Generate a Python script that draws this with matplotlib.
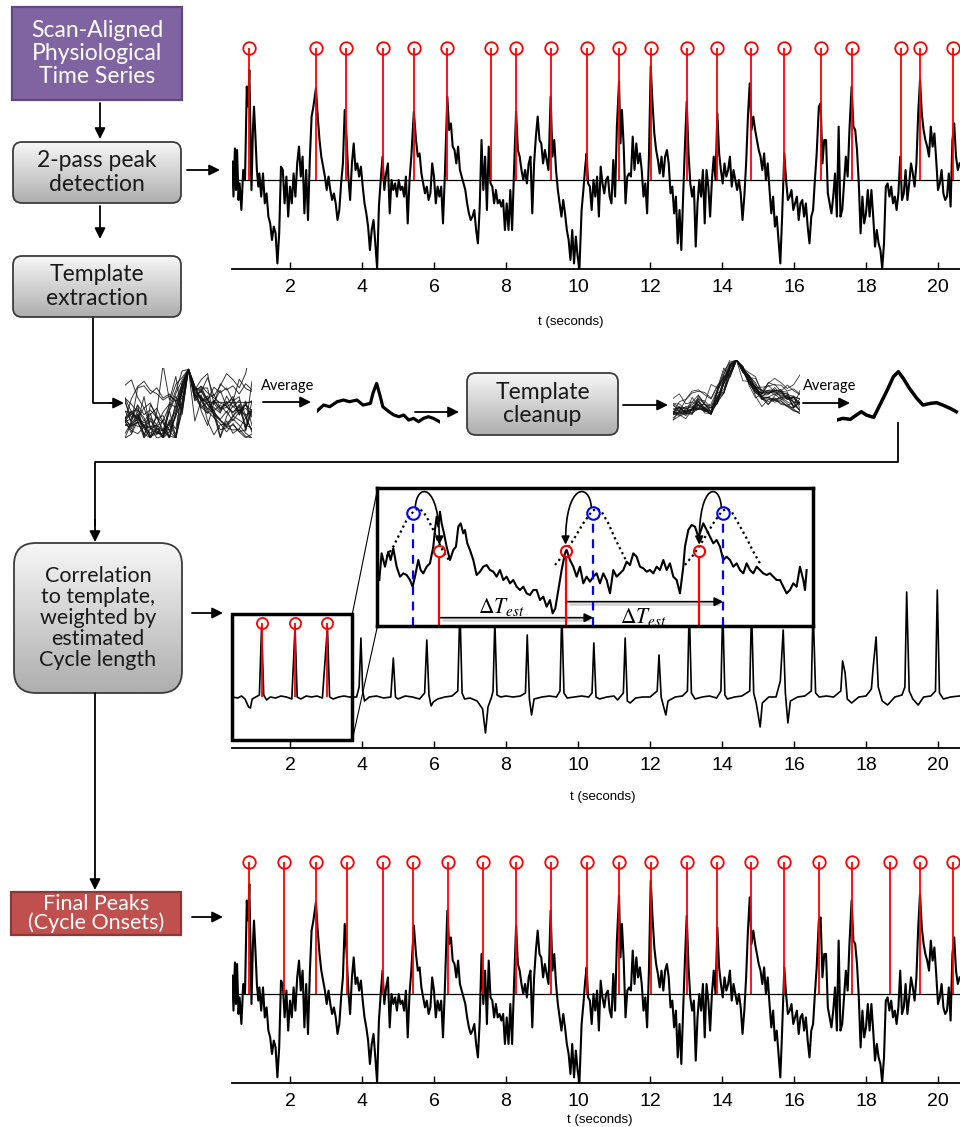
import numpy as np
import matplotlib
matplotlib.use('Agg')
import matplotlib.pyplot as plt
from matplotlib.patches import FancyBboxPatch, Rectangle, FancyArrowPatch
from matplotlib.path import Path
from matplotlib.colors import LinearSegmentedColormap

plt.rcParams['font.family'] = ['Liberation Sans', 'DejaVu Sans']
plt.rcParams['mathtext.fontset'] = 'stix'

# ---------------- data ----------------
# physiological trace (t in s, arbitrary amplitude, 0 = mean line)
trace_pts = [
    (0.40, 0.92), (0.43, -0.83), (0.47, 1.58), (0.50, -0.50), (0.53, 1.50), (0.57, -1.00), (0.60, -0.17), (0.65, -1.50),
    (0.70, 0.50), (0.75, 0.00), (0.80, 4.67), (0.84, 3.67), (0.87, 5.50), (0.90, 2.50), (0.93, -0.50), (0.97, 2.50),
    (1.00, 3.67), (1.04, 2.17), (1.08, 0.50), (1.12, -0.33), (1.15, 0.33), (1.20, -0.83), (1.25, 0.33), (1.30, -1.17),
    (1.35, -0.67), (1.40, -1.83), (1.45, -2.17), (1.50, -3.00), (1.55, -2.33), (1.60, -2.67), (1.65, -4.17), (1.70, -2.67),
    (1.75, 0.67), (1.80, 0.50), (1.85, -1.17), (1.90, 0.17), (1.95, -1.83), (2.00, -0.33), (2.05, -1.17), (2.10, 0.33),
    (2.15, -0.83), (2.20, 0.83), (2.25, 1.67), (2.30, 0.17), (2.35, 1.17), (2.40, -1.67), (2.45, 0.50), (2.50, -2.00),
    (2.55, 1.00), (2.60, 3.17), (2.65, 3.67), (2.72, 4.58), (2.77, 3.17), (2.82, 2.00), (2.87, 1.17), (2.92, 0.67),
    (2.97, 0.17), (3.02, -0.50), (3.07, 0.17), (3.12, -0.50), (3.17, -1.00), (3.22, -0.67), (3.27, -1.17), (3.32, -2.00),
    (3.37, -1.50), (3.42, -0.17), (3.47, 0.83), (3.52, 3.50), (3.57, 2.17), (3.62, 0.17), (3.67, -1.00), (3.72, 0.83),
    (3.77, 1.83), (3.82, 0.50), (3.87, 0.83), (3.92, 0.17), (3.97, 0.67), (4.02, -0.33), (4.07, -1.17), (4.12, -1.67),
    (4.17, -2.33), (4.22, -3.50), (4.27, -2.50), (4.32, -2.00), (4.37, -3.17), (4.42, -4.42), (4.47, -1.33), (4.52, 0.00),
    (4.57, 1.17), (4.62, -0.50), (4.67, 0.33), (4.72, 0.83), (4.77, -1.67), (4.82, 0.00), (4.87, -0.50), (4.92, -0.17),
    (4.97, -0.83), (5.02, 0.00), (5.07, -0.50), (5.12, -0.33), (5.17, -0.83), (5.22, 0.17), (5.27, -2.17), (5.32, 0.00),
    (5.37, 1.17), (5.44, 3.42), (5.50, 2.00), (5.55, 1.17), (5.60, 1.33), (5.65, 0.33), (5.70, -0.17), (5.75, -0.67),
    (5.80, -0.33), (5.85, -1.00), (5.90, -0.67), (5.95, 0.83), (6.00, 0.17), (6.05, -1.17), (6.10, -0.33), (6.15, -0.83),
    (6.20, -0.33), (6.25, -2.17), (6.30, 0.17), (6.37, 4.17), (6.42, 2.50), (6.47, 2.83), (6.52, 1.67), (6.57, 1.50),
    (6.62, 0.83), (6.67, 1.67), (6.72, 0.50), (6.77, 0.17), (6.82, -0.17), (6.87, -0.50), (6.92, -1.17), (6.97, -1.67),
    (7.02, -2.00), (7.07, -1.83), (7.12, -1.50), (7.17, -2.50), (7.22, -3.17), (7.27, -1.33), (7.32, 2.00), (7.37, -0.50),
    (7.42, 1.17), (7.47, -1.50), (7.52, 1.67), (7.57, -0.17), (7.62, -0.33), (7.67, -1.17), (7.72, -0.50), (7.77, -1.17),
    (7.82, -1.00), (7.87, -1.33), (7.92, -1.00), (7.97, -2.50), (8.02, -1.17), (8.07, -2.50), (8.12, -0.50), (8.17, -2.50),
    (8.22, 0.33), (8.28, 3.42), (8.33, 1.50), (8.38, 1.17), (8.43, 0.50), (8.48, 0.00), (8.53, 0.50), (8.58, -0.17),
    (8.63, 0.83), (8.68, 1.17), (8.73, -1.67), (8.78, 0.83), (8.83, 2.17), (8.88, 3.17), (8.93, 2.00), (8.98, 1.83),
    (9.03, 0.83), (9.08, 1.50), (9.13, 1.00), (9.18, 0.50), (9.24, 4.17), (9.29, 1.17), (9.34, 2.00), (9.39, 0.50),
    (9.44, -0.50), (9.49, -1.17), (9.54, -1.83), (9.59, -1.00), (9.64, -1.67), (9.69, -2.50), (9.74, -3.00), (9.79, -4.00),
    (9.84, -2.50), (9.89, -4.17), (9.94, -2.83), (9.99, -3.83), (10.04, -4.42), (10.10, -1.50), (10.15, -0.50), (10.20, 0.67),
    (10.24, 1.33), (10.28, -0.17), (10.33, -0.33), (10.38, -1.50), (10.43, 0.00), (10.48, -0.83), (10.53, 0.17), (10.58, -1.83),
    (10.63, 0.67), (10.68, -0.17), (10.73, -0.67), (10.78, 0.00), (10.83, 0.17), (10.88, -0.83), (10.93, -1.17), (10.98, 1.00),
    (11.03, -0.83), (11.08, 2.67), (11.14, 4.92), (11.18, 1.83), (11.22, 3.50), (11.27, 1.67), (11.32, -1.17), (11.37, 0.17),
    (11.42, 0.33), (11.47, 0.17), (11.52, 2.17), (11.57, 0.50), (11.62, 1.83), (11.67, 0.83), (11.72, 1.33), (11.77, 0.50),
    (11.82, -0.83), (11.87, -0.17), (11.92, -1.67), (11.97, 1.17), (12.02, 5.67), (12.07, 3.83), (12.12, 2.33), (12.17, 1.50),
    (12.22, 1.00), (12.27, 0.33), (12.32, 1.17), (12.37, 0.17), (12.42, 1.17), (12.47, 1.50), (12.52, 0.83), (12.57, -0.67),
    (12.62, -0.33), (12.67, -1.67), (12.72, -0.83), (12.77, -3.17), (12.82, -1.50), (12.87, -3.50), (12.92, -0.83), (12.97, 1.67),
    (13.02, 3.92), (13.07, 1.33), (13.12, -0.17), (13.17, -0.83), (13.22, -0.33), (13.27, -3.33), (13.32, -1.17), (13.37, 0.00),
    (13.42, -0.83), (13.47, 0.50), (13.52, -2.17), (13.57, 0.50), (13.62, -0.33), (13.67, -1.83), (13.72, 0.00), (13.77, 1.17),
    (13.82, 0.00), (13.87, 3.33), (13.92, 1.33), (13.97, 0.50), (14.02, -0.17), (14.07, 0.83), (14.12, 0.17), (14.17, 0.50),
    (14.22, 1.17), (14.27, -0.33), (14.32, 0.50), (14.37, 0.00), (14.42, -0.50), (14.47, 0.00), (14.52, -0.67), (14.57, -2.00),
    (14.62, -0.83), (14.67, 0.83), (14.72, 3.17), (14.77, 4.83), (14.82, 2.50), (14.87, 3.17), (14.92, 2.50), (14.97, 2.00),
    (15.02, 1.50), (15.07, 1.17), (15.12, 0.50), (15.17, 1.33), (15.22, 0.00), (15.27, 0.83), (15.32, -0.50), (15.37, -1.67),
    (15.42, -0.83), (15.47, -2.33), (15.52, -1.83), (15.57, -3.00), (15.62, -4.17), (15.67, -1.83), (15.73, 1.33), (15.78, 0.00),
    (15.83, -1.00), (15.88, -0.83), (15.93, -0.50), (15.98, -1.50), (16.03, -1.17), (16.08, -0.83), (16.13, -2.00), (16.18, -1.17),
    (16.23, -1.00), (16.28, -1.83), (16.33, -1.17), (16.38, -2.33), (16.43, -3.17), (16.48, -1.83), (16.53, -1.50), (16.58, 0.00),
    (16.63, 1.33), (16.69, 3.67), (16.74, 3.83), (16.79, 0.83), (16.84, 2.00), (16.89, 2.00), (16.94, -0.67), (16.99, -1.17),
    (17.04, -1.67), (17.09, -0.83), (17.14, 0.33), (17.19, -1.83), (17.24, 2.67), (17.29, -1.83), (17.34, -1.50), (17.39, -0.17),
    (17.44, 1.17), (17.49, 0.17), (17.54, 2.50), (17.60, 4.67), (17.65, 2.67), (17.70, 2.50), (17.75, 1.50), (17.80, -0.17),
    (17.85, -2.67), (17.90, -0.83), (17.95, -2.17), (18.00, -1.67), (18.05, -0.50), (18.10, -1.83), (18.15, -0.50), (18.20, -1.83),
    (18.25, -3.33), (18.30, -2.50), (18.35, -3.17), (18.40, -3.50), (18.45, -4.42), (18.50, -3.17), (18.55, -0.33), (18.60, -0.17),
    (18.65, -0.83), (18.70, -0.33), (18.75, -1.17), (18.80, -0.83), (18.85, -1.50), (18.90, -0.67), (18.95, 1.17), (19.00, -1.00),
    (19.05, -0.67), (19.10, 0.50), (19.15, -1.00), (19.20, -0.17), (19.25, 0.83), (19.30, 0.33), (19.35, -0.33), (19.40, 0.83),
    (19.45, 3.33), (19.50, 5.00), (19.55, 3.33), (19.60, 2.50), (19.65, 2.00), (19.70, 1.67), (19.75, 1.17), (19.80, 2.67),
    (19.85, 1.67), (19.90, 2.33), (19.95, 1.00), (20.00, -0.50), (20.05, -0.17), (20.10, 0.50), (20.15, -0.67), (20.20, -1.00),
    (20.25, -0.83), (20.30, 0.33), (20.35, -1.33), (20.40, 2.00), (20.45, 2.83), (20.50, 1.17), (20.55, 0.50), (20.60, 0.83),
]

# peaks found by the 2-pass detector and the final peaks (s)
peaks_first = [0.87, 2.72, 3.56, 4.57, 5.44, 6.37, 7.57, 8.28, 9.24, 10.24, 11.15,
               12.02, 13.02, 13.85, 14.81, 15.73, 16.74, 17.62, 18.97, 19.50, 20.43]
peaks_final = [0.87, 1.84, 2.72, 3.57, 4.57, 5.43, 6.38, 7.37, 8.28, 9.24, 10.24,
               11.14, 12.02, 13.02, 13.87, 14.81, 15.73, 16.69, 17.62, 18.67, 19.50, 20.43]
marker_level = 6.6

# weighted correlation to template
corr_pts = [
    (0.40, 0.00), (0.55, -0.05), (0.65, 0.05), (0.75, -0.10), (0.85, -0.50), (0.90, -0.55), (0.95, -0.10), (1.05, 0.00),
    (1.15, 0.10), (1.21, 3.50), (1.27, 0.10), (1.35, -0.15), (1.45, 0.00), (1.60, -0.05), (1.75, 0.05), (1.90, 0.00),
    (2.05, -0.10), (2.14, 3.50), (2.20, 0.00), (2.30, -0.10), (2.45, 0.05), (2.60, 0.00), (2.75, 0.05), (2.90, -0.05),
    (3.04, 3.50), (3.10, 0.00), (3.20, -0.10), (3.35, 0.00), (3.50, 0.05), (3.65, 0.00), (3.85, 0.00), (3.92, 0.50),
    (3.97, 2.95), (4.02, 0.30), (4.07, -0.20), (4.20, 0.00), (4.40, 0.05), (4.60, -0.05), (4.80, 0.00), (4.87, 1.95),
    (4.93, 0.00), (5.00, -0.10), (5.20, 0.05), (5.40, 0.00), (5.60, -0.10), (5.74, 0.20), (5.80, 2.85), (5.86, 0.10),
    (5.92, -0.45), (5.98, -0.25), (6.10, -0.10), (6.30, 0.00), (6.50, 0.05), (6.66, 0.30), (6.72, 4.50), (6.78, 0.20),
    (6.85, -0.10), (7.00, -0.05), (7.20, -0.20), (7.35, -0.60), (7.43, -1.80), (7.50, -0.50), (7.60, 0.00), (7.64, 0.30),
    (7.69, 3.80), (7.75, 0.10), (7.85, 0.00), (8.00, 0.05), (8.20, 0.00), (8.40, 0.05), (8.54, 0.20), (8.59, 3.10),
    (8.65, -0.10), (8.71, -0.90), (8.78, -0.10), (9.00, 0.00), (9.20, 0.05), (9.40, 0.00), (9.50, 0.30), (9.55, 4.30),
    (9.61, 0.20), (9.70, -0.05), (9.90, 0.00), (10.10, 0.05), (10.30, 0.00), (10.39, 0.20), (10.44, 2.70), (10.50, 0.00),
    (10.60, -0.10), (10.80, 0.00), (11.00, 0.05), (11.10, -0.15), (11.26, 0.20), (11.31, 2.95), (11.37, -0.20), (11.45, -0.30),
    (11.60, -0.05), (11.80, 0.00), (12.00, 0.00), (12.20, 0.30), (12.25, 2.10), (12.31, 0.00), (12.38, -0.50), (12.44, -0.90),
    (12.50, -0.20), (12.70, 0.00), (12.90, 0.05), (13.04, 0.30), (13.09, 4.50), (13.15, 0.20), (13.25, -0.10), (13.45, 0.00),
    (13.65, 0.05), (13.85, -0.05), (13.97, 0.30), (14.02, 4.50), (14.08, 0.10), (14.15, -0.10), (14.35, 0.00), (14.55, 0.05),
    (14.77, 0.30), (14.82, 4.50), (14.88, 0.20), (14.95, -0.30), (15.06, -1.50), (15.12, -0.30), (15.30, 0.00), (15.50, 0.00),
    (15.62, 0.80), (15.70, 3.35), (15.76, 0.20), (15.83, -1.30), (15.90, -0.20), (16.10, 0.00), (16.30, 0.05), (16.48, 0.30),
    (16.53, 4.50), (16.60, 0.20), (16.70, 0.00), (16.90, 0.05), (17.10, 0.00), (17.30, 0.30), (17.35, 1.80), (17.42, 1.20),
    (17.48, -0.10), (17.60, -0.30), (17.80, 0.00), (18.00, 0.05), (18.15, 0.40), (18.20, 1.50), (18.28, 3.00), (18.34, 0.50),
    (18.45, -0.20), (18.60, -0.40), (18.80, 0.00), (19.00, 0.10), (19.08, 0.50), (19.13, 5.25), (19.20, 0.30), (19.30, -0.10),
    (19.45, -0.40), (19.60, 0.00), (19.80, 0.05), (19.93, 0.30), (19.98, 5.35), (20.04, 0.20), (20.15, -0.10), (20.35, 0.00),
    (20.60, 0.05),
]
corr_marked = [1.21, 2.14, 3.04]
corr_marker_level = 3.7

# template averages (offset from peak in s, amplitude)
avg1_t = [-0.49, -0.43, -0.38, -0.32, -0.27, -0.22, -0.16, -0.11, -0.05, -0.03, 0.00, 0.03,
          0.05, 0.10, 0.14, 0.18, 0.22, 0.26, 0.30, 0.34, 0.38, 0.42, 0.46, 0.51]
avg1_v = [0.35, 0.55, 0.50, 0.65, 0.70, 0.65, 0.70, 0.55, 0.60, 0.90, 1.20, 0.80,
          0.50, 0.35, 0.25, 0.20, 0.25, 0.10, 0.15, 0.05, 0.15, 0.20, 0.15, 0.05]
avg2_t = [-0.50, -0.45, -0.39, -0.34, -0.30, -0.26, -0.20, -0.15, -0.09, -0.04, 0.00,
          0.04, 0.09, 0.15, 0.20, 0.26, 0.31, 0.36, 0.42, 0.47]
avg2_v = [0.10, 0.15, 0.12, 0.25, 0.35, 0.25, 0.18, 0.55, 1.00, 1.40, 1.55,
          1.35, 1.05, 0.75, 0.55, 0.60, 0.62, 0.55, 0.45, 0.35]

# zoomed illustration
inset_pts = [
    (0.06, 1.37), (0.13, 2.17), (0.23, 1.77), (0.33, 2.22), (0.40, 1.97), (0.48, 2.32), (0.58, 1.77), (0.68, 1.47),
    (0.78, 1.57), (0.88, 1.52), (0.98, 1.37), (1.06, 1.17), (1.13, 1.47), (1.23, 1.97), (1.30, 1.67), (1.38, 1.57),
    (1.48, 1.77), (1.58, 1.87), (1.68, 2.37), (1.73, 2.87), (1.78, 3.27), (1.83, 2.97), (1.88, 3.42), (1.93, 3.07),
    (2.00, 2.77), (2.08, 2.37), (2.18, 1.97), (2.28, 2.27), (2.36, 2.37), (2.43, 2.97), (2.50, 3.07), (2.58, 2.77),
    (2.63, 2.87), (2.70, 2.47), (2.78, 2.27), (2.88, 1.97), (2.98, 1.52), (3.08, 1.62), (3.18, 1.77), (3.28, 1.82),
    (3.38, 1.67), (3.48, 1.62), (3.58, 1.47), (3.68, 1.67), (3.78, 1.37), (3.88, 1.47), (3.98, 1.27), (4.08, 1.37),
    (4.18, 1.17), (4.28, 1.07), (4.38, 1.17), (4.48, 0.97), (4.58, 0.92), (4.68, 1.07), (4.78, 1.07), (4.88, 0.77),
    (4.98, 0.87), (5.08, 0.57), (5.18, 0.77), (5.26, 0.37), (5.34, 0.52), (5.43, 1.07), (5.53, 1.67), (5.63, 2.17),
    (5.68, 2.27), (5.78, 1.97), (5.88, 1.77), (5.98, 1.47), (6.08, 1.77), (6.18, 1.27), (6.28, 1.47), (6.38, 1.32),
    (6.48, 1.47), (6.58, 1.57), (6.68, 1.27), (6.78, 1.57), (6.88, 1.37), (6.98, 0.97), (7.08, 1.67), (7.18, 1.47),
    (7.28, 1.57), (7.38, 1.67), (7.48, 1.92), (7.58, 1.82), (7.68, 2.17), (7.78, 2.07), (7.88, 1.77), (7.98, 1.72),
    (8.08, 1.62), (8.18, 1.67), (8.28, 1.57), (8.38, 1.77), (8.48, 1.67), (8.58, 1.97), (8.68, 1.67), (8.78, 1.87),
    (8.88, 1.47), (8.98, 1.37), (9.08, 0.97), (9.18, 1.77), (9.23, 2.37), (9.33, 2.87), (9.43, 3.02), (9.53, 2.97),
    (9.63, 2.67), (9.68, 2.77), (9.78, 3.07), (9.88, 2.87), (9.98, 2.67), (10.08, 2.47), (10.18, 2.57), (10.28, 2.37),
    (10.38, 1.97), (10.48, 2.07), (10.58, 1.97), (10.68, 1.77), (10.78, 1.87), (10.88, 1.67), (10.98, 1.57), (11.08, 1.87),
    (11.18, 1.67), (11.28, 1.57), (11.38, 1.77), (11.48, 1.67), (11.58, 1.57), (11.68, 1.52), (11.78, 1.57), (11.88, 1.47),
    (11.98, 1.37), (12.08, 1.37), (12.18, 1.17), (12.28, 0.97), (12.38, 1.07), (12.48, 1.27), (12.58, 1.17), (12.68, 1.77),
    (12.78, 1.37), (12.83, 1.07), (12.88, 1.67),
]
inset_est = [1.08, 6.48, 10.38]     # template-based estimates (blue)
inset_found = [1.86, 5.65, 9.66]    # correlation peaks (red)
inset_est_y = 3.38
inset_found_y = 2.23
bump_t = [[0.28, 0.48, 0.68, 0.88, 1.08, 1.23, 1.38, 1.53, 1.68, 1.83, 1.98, 2.18],
          [5.33, 5.58, 5.88, 6.18, 6.43, 6.58, 6.73, 6.93, 7.13, 7.33, 7.48],
          [9.23, 9.48, 9.78, 10.08, 10.33, 10.48, 10.63, 10.83, 11.08, 11.28, 11.48]]
bump_v = [[2.07, 2.37, 2.77, 3.17, 3.42, 3.52, 3.42, 3.17, 2.87, 2.52, 2.22, 1.92],
          [1.82, 2.12, 2.57, 3.07, 3.42, 3.52, 3.42, 3.07, 2.62, 2.22, 1.92],
          [1.82, 2.12, 2.57, 3.07, 3.42, 3.52, 3.42, 3.07, 2.62, 2.22, 1.87]]

tick_vals = [2, 4, 6, 8, 10, 12, 14, 16, 18, 20]

sig_t, sig_v = np.array(trace_pts).T
corr_t, corr_v = np.array(corr_pts).T

# ---------------- layout helpers (pixel coordinates) ----------------
W, H = 960, 1127
fig = plt.figure(figsize=(W / 100, H / 100), dpi=100)


def rect(x0, y0, x1, y1):
    return [x0 / W, 1 - y1 / H, (x1 - x0) / W, (y1 - y0) / H]


def time_axes(r, ylim):
    ax = fig.add_axes(r)
    ax.set_xlim(0.389, 20.611)
    ax.set_ylim(*ylim)
    for s in ['top', 'right', 'left']:
        ax.spines[s].set_visible(False)
    ax.spines['bottom'].set_linewidth(1.3)
    ax.set_yticks([])
    ax.set_xticks(tick_vals)
    ax.tick_params(axis='x', direction='in', length=5, width=1, labelsize=14, pad=7)
    ax.patch.set_alpha(0)
    return ax


def stems(ax, times, level, ms=9):
    ax.vlines(times, 0, level, color='red', lw=1.3, zorder=3)
    ax.plot(times, [level] * len(times), 'o', ms=ms, mfc='none', mec='red', mew=1.3,
            clip_on=False, zorder=4)


# ---------------- time series panels ----------------
ax1 = time_axes(rect(232, 40, 960, 269), (-4.45, 7.0))
ax1.axhline(0, color='black', lw=0.9)
ax1.plot(sig_t, sig_v, color='black', lw=1.5)
stems(ax1, peaks_first, marker_level)

ax2 = time_axes(rect(232, 580, 960, 747.7), (-2.535, 5.85))
ax2.plot(corr_t, corr_v, color='black', lw=1.2)
stems(ax2, corr_marked, corr_marker_level, ms=8)

ax3 = time_axes(rect(232, 854, 960, 1083), (-4.45, 7.0))
ax3.axhline(0, color='black', lw=0.9)
ax3.plot(sig_t, sig_v, color='black', lw=1.5)
stems(ax3, peaks_final, marker_level)

# ---------------- template extraction / cleanup ----------------
offs = np.round(np.arange(-10, 11) * 0.05, 2)
windows = []
for p in peaks_first:
    near = np.abs(sig_t - p) <= 0.12
    c = sig_t[near][np.argmax(sig_v[near])]
    w = np.interp(c + offs, sig_t, sig_v)
    windows.append((w - w.min()) / (w[10] - w.min()))
windows = np.array(windows)
cleaned = np.interp(offs, avg2_t, avg2_v) + 0.8 * (windows - windows.mean(axis=0))

axw1 = fig.add_axes(rect(125, 368, 252, 438))
for w in windows:
    axw1.plot(offs, w, color='#111111', lw=0.7, alpha=0.85)
axw1.set_xlim(-0.5, 0.5)
axw1.set_ylim(0, 1.02)
axw1.axis('off')

axa1 = fig.add_axes(rect(316.7, 376.7, 440, 426.7))
axa1.plot(avg1_t, avg1_v, color='black', lw=2.3, solid_joinstyle='round')
axa1.set_xlim(-0.486, 0.514)
axa1.set_ylim(-0.1, 1.4)
axa1.axis('off')

axw2 = fig.add_axes(rect(673, 360, 800, 427))
for w in cleaned:
    axw2.plot(offs, w, color='#111111', lw=0.6, alpha=0.85)
axw2.set_xlim(-0.5, 0.5)
axw2.set_ylim(-0.35, 1.56)
axw2.axis('off')

axa2 = fig.add_axes(rect(836.7, 366.7, 960, 426.7))
axa2.plot(avg2_t, avg2_v, color='black', lw=2.5, solid_joinstyle='round')
axa2.set_xlim(-0.5, 0.5)
axa2.set_ylim(-0.1, 1.7)
axa2.axis('off')

# ---------------- zoomed illustration ----------------
axi = fig.add_axes(rect(377.3, 488.3, 813.3, 625.7), zorder=5)
axi.set_facecolor('white')
axi.set_xlim(0, 13.08)
axi.set_ylim(0, 4.12)
axi.set_xticks([])
axi.set_yticks([])
for s in axi.spines.values():
    s.set_linewidth(2.5)
it, iv = np.array(inset_pts).T
axi.plot(it, iv, color='black', lw=1.5)
for bt, bv in zip(bump_t, bump_v):
    axi.plot(bt, bv, color='black', lw=1.6, ls=(0, (1, 1.5)))
axi.vlines(inset_est, 0, inset_est_y - 0.17, color='blue', lw=1.6, linestyles=(0, (4, 3)))
axi.plot(inset_est, [inset_est_y] * 3, 'o', ms=9, mfc='none', mec='blue', mew=1.5)
axi.vlines(inset_found, 0, inset_found_y - 0.15, color='red', lw=1.6)
axi.plot(inset_found, [inset_found_y] * 3, 'o', ms=8, mfc='none', mec='red', mew=1.5)
for e, f in zip(inset_est, inset_found):
    sgn = 1 if f > e else -1
    path = Path([(e + 0.06 * sgn, inset_est_y + 0.17), (e + 0.1 * sgn, 4.3),
                 (f + 0.02 * sgn, 4.3), (f, inset_found_y + 0.2)],
                [Path.MOVETO, Path.CURVE4, Path.CURVE4, Path.CURVE4])
    axi.add_patch(FancyArrowPatch(path=path, arrowstyle='-|>', mutation_scale=12,
                                  lw=1.2, color='black'))
for x0, x1, y, lx, ly in [(inset_found[0], inset_est[1], 0.24, 3.73, 0.55),
                           (inset_found[1] + 0.03, inset_est[2], 0.72, 7.98, 0.27)]:
    axi.plot([x0 + 0.08, x1 - 0.1], [y - 0.07, y - 0.07], color='#d0d0d0', lw=1.8,
             solid_capstyle='butt', zorder=1)
    axi.add_patch(FancyArrowPatch((x0, y), (x1, y), arrowstyle='-|>', mutation_scale=13,
                                  lw=1.2, color='black', shrinkA=0, shrinkB=0))
    axi.text(lx, ly, r'$\Delta T_{est}$', fontsize=15.5, ha='center', va='center')

# ---------------- flowchart overlay ----------------
ax0 = fig.add_axes([0, 0, 1, 1], zorder=10)
ax0.axis('off')
ax0.set_autoscale_on(False)
ax0.set_xlim(0, W)
ax0.set_ylim(H, 0)
gray_cmap = LinearSegmentedColormap.from_list('boxgray', ['#f6f6f6', '#aeaeae'])
FLOW = ['Lato', 'DejaVu Sans']


def grad_box(x0, y0, x1, y1, text, fs, rad, ls=1.15):
    patch = FancyBboxPatch((x0, y0), x1 - x0, y1 - y0,
                           boxstyle=f'round,pad=0,rounding_size={rad}',
                           fc='none', ec='#3c3c3c', lw=1.3, zorder=3)
    ax0.add_patch(patch)
    im = ax0.imshow(np.linspace(0, 1, 64).reshape(-1, 1), cmap=gray_cmap,
                    extent=(x0, x1, y1, y0), aspect='auto', zorder=2)
    im.set_clip_path(patch)
    ax0.text((x0 + x1) / 2, (y0 + y1) / 2, text, ha='center', va='center',
             fontsize=fs, family=FLOW, color='#1a1a1a', linespacing=ls, zorder=4)


def flat_box(x0, y0, x1, y1, text, fs, fc, ec, ls=1.15):
    ax0.add_patch(Rectangle((x0, y0), x1 - x0, y1 - y0, fc=fc, ec=ec, lw=1.6, zorder=3))
    ax0.text((x0 + x1) / 2, (y0 + y1) / 2, text, ha='center', va='center',
             fontsize=fs, family=FLOW, color='white', linespacing=ls, zorder=4)


def arrow(p0, p1, lw=1.3):
    ax0.annotate('', xy=p1, xytext=p0,
                 arrowprops=dict(arrowstyle='-|>', lw=lw, color='black',
                                 mutation_scale=16, shrinkA=0, shrinkB=0))


flat_box(12, 7, 182, 100, 'Scan-Aligned\nPhysiological\nTime Series', 16.5, '#8064a2', '#5e4a7e', ls=1.1)
grad_box(13, 142, 181, 203, '2-pass peak\ndetection', 16.5, 9)
grad_box(13, 256, 181, 317, 'Template\nextraction', 16.5, 9)
grad_box(467, 373, 618, 435, 'Template\ncleanup', 16.5, 9)
grad_box(14, 543, 182, 693, 'Correlation\nto template,\nweighted by\nestimated\nCycle length', 15.5, 22, ls=1.05)
flat_box(11, 892, 181, 935, 'Final Peaks\n(Cycle Onsets)', 15.5, '#c0504d', '#8c3836', ls=0.92)

arrow((100, 103), (100, 139))
arrow((187, 170), (220, 170))
arrow((100, 206), (100, 239))
ax0.plot([93, 93, 112], [317, 403, 403], color='black', lw=1.3)
arrow((110, 403), (124, 403))
arrow((263, 402), (311, 402))
ax0.text(288, 386, 'Average', ha='center', va='center', fontsize=10.5, family=FLOW)
arrow((415, 412), (459, 412))
arrow((623, 405), (668, 405))
arrow((803, 403), (850, 403))
ax0.text(830, 386, 'Average', ha='center', va='center', fontsize=10.5, family=FLOW)
ax0.plot([898, 898, 95, 95], [423, 462, 462, 525], color='black', lw=1.3)
arrow((95, 520), (95, 542))
arrow((192, 613), (223, 613))
arrow((95, 693), (95, 890))
arrow((192, 917), (223, 917))

# box around the marked cycles and zoom lines to the illustration
ax0.add_patch(Rectangle((232, 614), 120.3, 126, fc='none', ec='black', lw=2.5, zorder=5))
ax0.plot([352.3, 377.5], [614, 489], color='black', lw=0.8)
ax0.plot([352.3, 377.5], [740, 626], color='black', lw=0.8)

for x, y in [(571, 322), (603, 797), (600, 1120)]:
    ax0.text(x, y, 't (seconds)', ha='center', va='center', fontsize=9.5)

fig.savefig('out.png', dpi=100)
